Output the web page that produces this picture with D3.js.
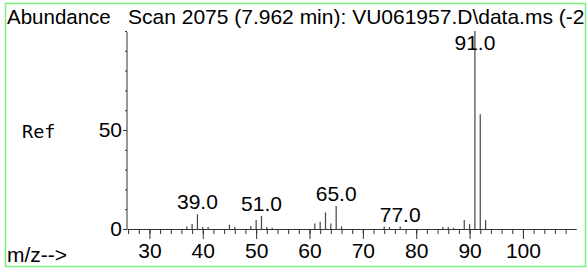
<!DOCTYPE html>
<html>
<head>
<meta charset="utf-8">
<script src="https://cdn.jsdelivr.net/npm/d3@7"></script>
<style>
  body { margin: 0; background: #fff; }
  svg { display: block; }
  text { font-family: "Liberation Sans", Arial, sans-serif; fill: #000; }
</style>
</head>
<body>
<script>
// spectrum data
const mz = [37, 38, 39, 40, 41, 45, 46, 49, 50, 51, 52, 53,
            61, 62, 63, 64, 65, 66, 74, 75, 77, 85, 86, 87, 89, 90, 91, 92, 93];
const abundance = [1.2, 2.5, 7.4, 1, 1, 2.2, 1, 1.5, 4.5, 6.6, 1, 0.6,
                   2.8, 3.6, 8.4, 2.8, 11.6, 1.3, 1.2, 1, 1.2, 1, 1, 0.6, 4.5, 2.5, 100, 58, 4.5];
const labelled = [39, 51, 65, 77, 91];
const xMajor = [30, 40, 50, 60, 70, 80, 90, 100];
const yMajor = [0, 50];
// the reference cuts the title off at the frame
const title = "Scan 2075 (7.962 min): VU061957.D\\data.ms (-2";

const width = 588, height = 268;
const fs = 21;

const svg = d3.select("body").append("svg")
  .attr("width", width)
  .attr("height", height);

svg.append("clipPath").attr("id", "frame")
  .append("rect").attr("x", 6).attr("y", 4).attr("width", 579).attr("height", 262);

const g = svg.append("g").attr("clip-path", "url(#frame)");

const x = d3.scaleLinear().domain([25.8, 110]).range([127, 576.3]);
const y = d3.scaleLinear().domain([0, 100]).range([229, 31]);

// bars
g.append("g")
  .selectAll("line")
  .data(mz.map((m, i) => ({ m, v: abundance[i] })))
  .join("line")
  .attr("x1", d => x(d.m)).attr("x2", d => x(d.m))
  .attr("y1", y(0)).attr("y2", d => y(d.v))
  .attr("stroke", "#444")
  .attr("stroke-width", 1.2);

// minor x ticks
g.append("g")
  .attr("transform", `translate(0,${y(0)})`)
  .call(d3.axisBottom(x).tickValues(d3.range(26, 110, 2)).tickSize(5).tickFormat("").tickSizeOuter(0))
  .call(a => a.select(".domain").attr("stroke", "#333"))
  .call(a => a.selectAll(".tick line").attr("stroke", "#333"));

// major x ticks with labels
g.append("g")
  .attr("transform", `translate(0,${y(0)})`)
  .call(d3.axisBottom(x).tickValues(xMajor).tickSize(10).tickPadding(4).tickSizeOuter(0))
  .call(a => a.select(".domain").remove())
  .call(a => a.selectAll(".tick line").attr("stroke", "#333"))
  .call(a => a.selectAll("text").attr("font-size", fs).attr("font-family", "Liberation Sans, Arial, sans-serif").attr("fill", "#000"));

// y axis
g.append("g")
  .attr("transform", `translate(${x(25.8)},0)`)
  .call(d3.axisLeft(y).tickValues(d3.range(0, 101, 10)).tickSize(2).tickFormat("").tickSizeOuter(0))
  .call(a => a.select(".domain").attr("stroke", "#333").attr("d", `M0,${y(0)}V32`))
  .call(a => a.selectAll(".tick line").attr("stroke", "#333"));

g.append("g")
  .attr("transform", `translate(${x(25.8)},0)`)
  .call(d3.axisLeft(y).tickValues(yMajor).tickSize(4).tickPadding(1).tickSizeOuter(0))
  .call(a => a.select(".domain").remove())
  .call(a => a.selectAll(".tick line").attr("stroke", "#333"))
  .call(a => a.selectAll("text").attr("font-size", fs).attr("font-family", "Liberation Sans, Arial, sans-serif").attr("fill", "#000"));

// peak labels
g.append("g")
  .selectAll("text")
  .data(labelled)
  .join("text")
  .attr("x", m => x(m))
  .attr("y", m => Math.max(y(abundance[mz.indexOf(m)]) - 5, 50))
  .attr("text-anchor", "middle")
  .attr("font-size", fs)
  .text(m => m.toFixed(1));

// texts
g.append("text").attr("x", 7).attr("y", 24).attr("font-size", 20.5).text("Abundance");
g.append("text").attr("x", 128).attr("y", 24).attr("font-size", fs).text(title);
g.append("text").attr("x", 22).attr("y", 138).attr("font-size", 18.5)
  .style("font-family", "'DejaVu Sans Mono', monospace").text("Ref");
g.append("text").attr("x", 7).attr("y", 262).attr("font-size", fs).text("m/z-->");

// frame
svg.append("rect")
  .attr("x", 5.5).attr("y", 3.5).attr("width", 580).attr("height", 263)
  .attr("fill", "none")
  .attr("stroke", "#80f080")
  .attr("stroke-width", 1.5);
</script>
</body>
</html>
